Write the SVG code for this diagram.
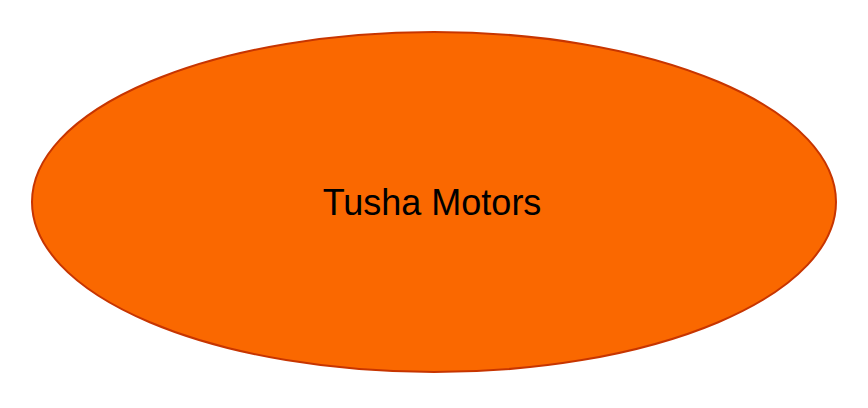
<svg xmlns="http://www.w3.org/2000/svg" width="868" height="408" viewBox="0 0 868 408"><style>.t{font-family:"Liberation Sans",Arial,sans-serif;font-size:36px;fill:#000}</style><rect width="868" height="408" fill="#fff"/><g id="node1"><ellipse cx="434" cy="202" rx="402" ry="170" fill="#fa6800" stroke="#c73500" stroke-width="2"/><text class="t" x="432" y="215" text-anchor="middle">Tusha Motors</text></g><g id="connectors"/></svg>
